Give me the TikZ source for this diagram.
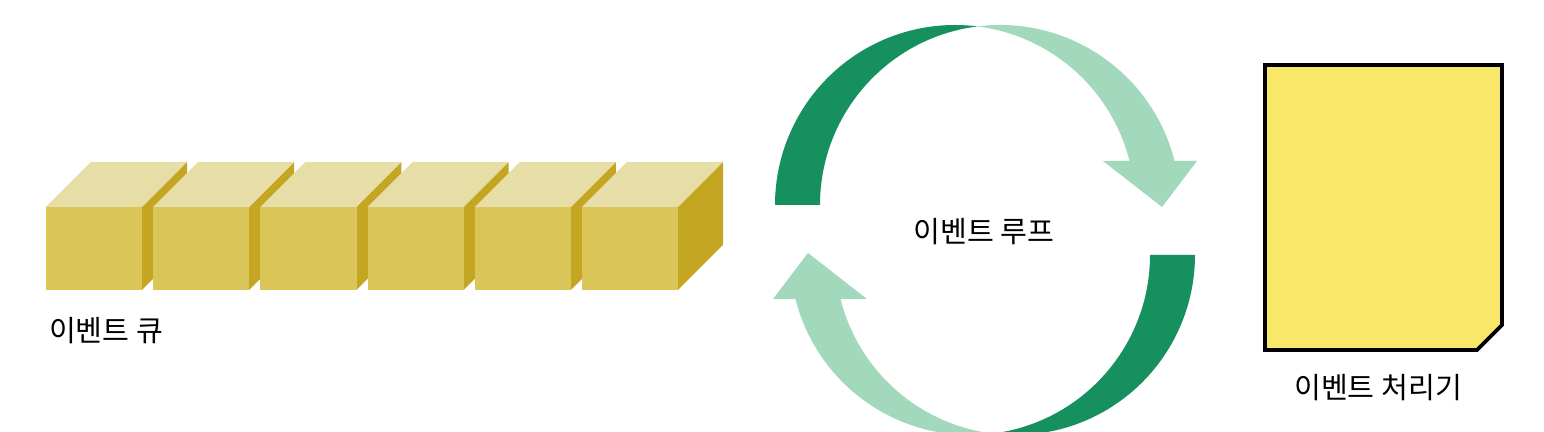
\documentclass[tikz,border=0pt]{standalone}
\usepackage{fontspec}
\setmainfont{Noto Sans CJK KR}
\definecolor{cubefront}{RGB}{218,198,88}
\definecolor{cubetop}{RGB}{230,222,166}
\definecolor{cubeside}{RGB}{196,166,34}
\definecolor{loopdark}{RGB}{22,144,94}
\definecolor{looplight}{RGB}{162,216,188}
\definecolor{docyellow}{RGB}{248,231,104}
\begin{document}
\begin{tikzpicture}[x=0.5pt, y=0.5pt, line join=round, font=\fontsize{14.6}{17}\selectfont]
			\def\cw{96}
			\def\ch{83}
			\def\cd{45}
			\useasboundingbox (0,0) rectangle (1544,432);
			% event queue
			\foreach \i in {0,...,5} {
				\pgfmathsetmacro\cx{46+107.2*\i}
				\fill [cubeside] (\cx+\cw,142) -- ++(\cd,\cd) -- ++(0,\ch) -- ++(-\cd,-\cd) -- cycle;
				\fill [cubetop] (\cx,142+\ch) -- ++(\cw,0) -- ++(\cd,\cd) -- ++(-\cw,0) -- cycle;
				\fill [cubefront] (\cx,142) rectangle ++(\cw,\ch);
			}
			% event loop: two offset circles, each half turned by 180
			\foreach \r in {0,180} {
				\begin{scope}[shift={(985,202)}, rotate=\r]
					\fill [loopdark] (-210,25) arc [start angle=180, end angle=82.82, radius=180]
						arc [start angle=97.18, end angle=180, radius=180] -- cycle;
					\fill [looplight] (-7.5,203.6) arc [start angle=97.18, end angle=14.15, radius=180]
						-- (212,69) -- (177,23) -- (118,69) -- (144.5,69)
						arc [start angle=14.15, end angle=82.82, radius=180] -- cycle;
				\end{scope}
			}
			% event handler
			\draw [line width=1.8pt, line join=miter, fill=docyellow] (1265,367) -- (1502,367) -- (1502,107) -- (1477,82) -- (1265,82) -- cycle;
			\node [anchor=west] (queue) at (42,101) {이벤트 큐};
			\node (loop) at (984,200) {이벤트 루프};
			\node (handler) at (1378,44) {이벤트 처리기};
		\end{tikzpicture}
\end{document}
